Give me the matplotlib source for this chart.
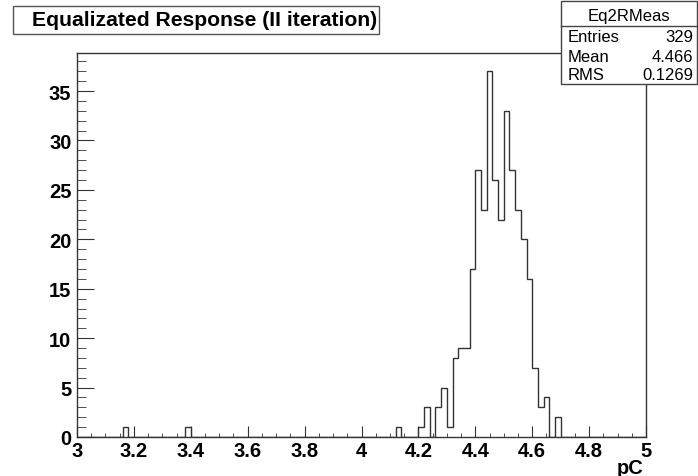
import numpy as np
import matplotlib.pyplot as plt
from matplotlib.patches import Rectangle
from matplotlib.ticker import MultipleLocator, FormatStrFormatter

plt.rcParams['font.family'] = ['Liberation Sans', 'DejaVu Sans']

# histogram Eq2RMeas: 100 bins from 3 to 5 pC, only non-empty bins listed
x_min, x_max, n_bins = 3.0, 5.0, 100
bin_low = [3.16, 3.38, 4.12, 4.20, 4.22, 4.26, 4.28, 4.30, 4.32, 4.34, 4.36,
           4.38, 4.40, 4.42, 4.44, 4.46, 4.48, 4.50, 4.52, 4.54, 4.56, 4.58,
           4.60, 4.62, 4.64, 4.68]
bin_count = [1, 1, 1, 1, 3, 3, 5, 1, 8, 9, 9,
             17, 27, 23, 37, 26, 22, 33, 27, 23, 20, 16,
             7, 3, 4, 2]

title = 'Equalizated Response (II iteration)'
xlabel = 'pC'
stats_name = 'Eq2RMeas'
stats_rows = [('Entries', '329'), ('Mean', '4.466'), ('RMS', '0.1269')]

edges = np.linspace(x_min, x_max, n_bins + 1)
counts = np.zeros(n_bins)
for lo, c in zip(bin_low, bin_count):
    counts[int(round((lo - x_min) / (x_max - x_min) * n_bins))] = c

W, H = 698, 477
fig = plt.figure(figsize=(W / 100, H / 100), dpi=100)
fig.patch.set_facecolor('white')


def px(x, y):
    return x / W, 1 - y / H


left, right, top, bottom = 77, 646, 54, 438
ax = fig.add_axes([left / W, 1 - bottom / H, (right - left) / W, (bottom - top) / H])
ax.stairs(counts, edges, color='#333333', linewidth=1.0)
ax.set_xlim(x_min, x_max)
ax.set_ylim(0, counts.max() * 1.05)

for s in ax.spines.values():
    s.set_color('#333333')
    s.set_linewidth(1.0)

ax.xaxis.set_major_locator(MultipleLocator(0.2))
ax.xaxis.set_minor_locator(MultipleLocator(0.05))
ax.xaxis.set_major_formatter(FormatStrFormatter('%g'))
ax.yaxis.set_major_locator(MultipleLocator(5))
ax.yaxis.set_minor_locator(MultipleLocator(1))
ax.tick_params(axis='both', which='both', direction='in', color='#333333',
               labelsize=14.5)
ax.tick_params(axis='x', which='major', length=7.9, pad=3)
ax.tick_params(axis='x', which='minor', length=3.2)
ax.tick_params(axis='y', which='major', length=12.2, pad=4)
ax.tick_params(axis='y', which='minor', length=6.3)
for lab in ax.get_xticklabels() + ax.get_yticklabels():
    lab.set_fontweight('bold')

fig.text(*px(643, 469), xlabel, ha='right', va='center', fontsize=14.5,
         fontweight='bold')

# title box
x0, y0 = px(13, 35)
x1, y1 = px(379, 7)
fig.patches.append(Rectangle((x0, y0), x1 - x0, y1 - y0, transform=fig.transFigure,
                             facecolor='white', edgecolor='#555555', linewidth=1.0))
fig.text(*px(205, 21), title, ha='center', va='center', fontsize=15.2,
         fontweight='bold')

# stats box
x0, y0 = px(561, 85)
x1, y1 = px(697, 2)
fig.patches.append(Rectangle((x0, y0), x1 - x0, y1 - y0, transform=fig.transFigure,
                             facecolor='white', edgecolor='#444444', linewidth=1.0,
                             zorder=5))
fig.add_artist(plt.Line2D([x0, x1], [px(0, 27)[1]] * 2, transform=fig.transFigure,
                          color='#444444', linewidth=1.0, zorder=6))
fig.text(*px(629, 16), stats_name, ha='center', va='center', fontsize=12, zorder=7)
for (name, val), yy in zip(stats_rows, [37, 57, 76]):
    fig.text(*px(568, yy), name, ha='left', va='center', fontsize=12, zorder=7)
    fig.text(*px(693, yy), val, ha='right', va='center', fontsize=12, zorder=7)

fig.savefig('out.png', dpi=100)
